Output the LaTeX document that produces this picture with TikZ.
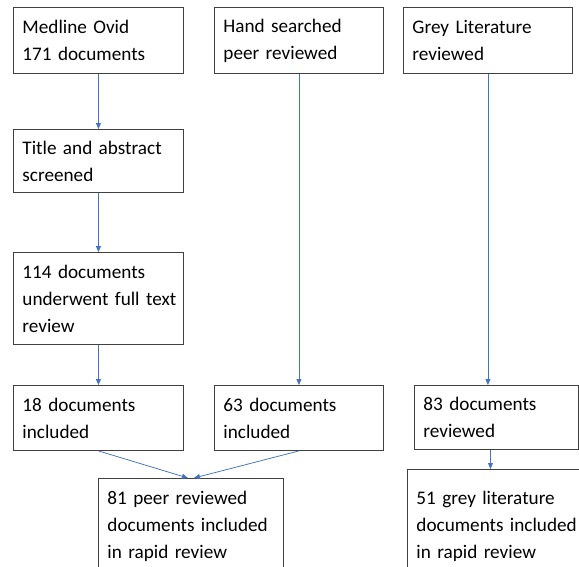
\documentclass[tikz,border=0pt]{standalone}
\usepackage{fontspec}
\setmainfont{Carlito}
\usetikzlibrary{arrows.meta}
\definecolor{flowblue}{RGB}{68,114,196}
\begin{document}
\begin{tikzpicture}[x=1pt,y=-1pt,
  box/.style={draw=black!75, line width=0.9pt, rectangle, anchor=north west,
    inner xsep=9pt, inner ysep=0pt, align=left,
    font=\fontsize{19.2}{27}\selectfont},
  flow/.style={draw=flowblue, line width=0.75pt,
    -{Triangle[length=6pt,width=5pt]}}]
\useasboundingbox (0,0) rectangle (579,566);
\fill[white] (0,0) rectangle (579,566);
\clip (0,0) rectangle (579,566);

% top row: the three sources
\node[box, text width=152pt, minimum height=66pt] (medline) at (13,7) {Medline Ovid\\171 documents};
\node[box, text width=151pt, minimum height=66pt] (hand) at (214,7) {Hand searched\\peer reviewed};
\node[box, text width=151pt, minimum height=66pt] (grey) at (403,7) {Grey Literature\\reviewed};

% Medline screening chain
\node[box, text width=152pt, minimum height=63pt] (title) at (13,129) {\mbox{Title and abstract}\\screened};
\node[box, text width=152pt, minimum height=92pt] (full) at (13,252) {114 documents\\\mbox{underwent full text}\\review};

% included counts
\node[box, text width=152pt, minimum height=65pt] (d18) at (13,385) {18 documents\\included};
\node[box, text width=151pt, minimum height=65pt] (h63) at (214,385) {63 documents\\included};
\node[box, text width=146pt, minimum height=64pt] (g83) at (414,385) {83 documents\\reviewed};

% final totals (running past the lower edge)
\node[box, text width=167pt, minimum height=95pt] (p81) at (98,478) {\mbox{81 peer reviewed}\\\mbox{documents included}\\in rapid review};
\node[box, text width=182pt, minimum height=113pt] (g51) at (407,469) {\mbox{51 grey literature}\\\mbox{documents included}\\in rapid review};

% connectors
\draw[flow] (medline) -- (title);
\draw[flow] (title) -- (full);
\draw[flow] (full) -- (d18);
\draw[flow] (hand) -- (h63);
\draw[flow] (grey.south) -- (grey.south |- g83.north);
\draw[flow] ([xshift=-6pt]g83.south) -- ([xshift=-6pt]g83.south |- g51.north);
\draw[flow] (d18.south) -- ([xshift=-3pt]p81.north);
\draw[flow] (h63.south) -- ([xshift=3pt]p81.north);
\end{tikzpicture}
\end{document}
